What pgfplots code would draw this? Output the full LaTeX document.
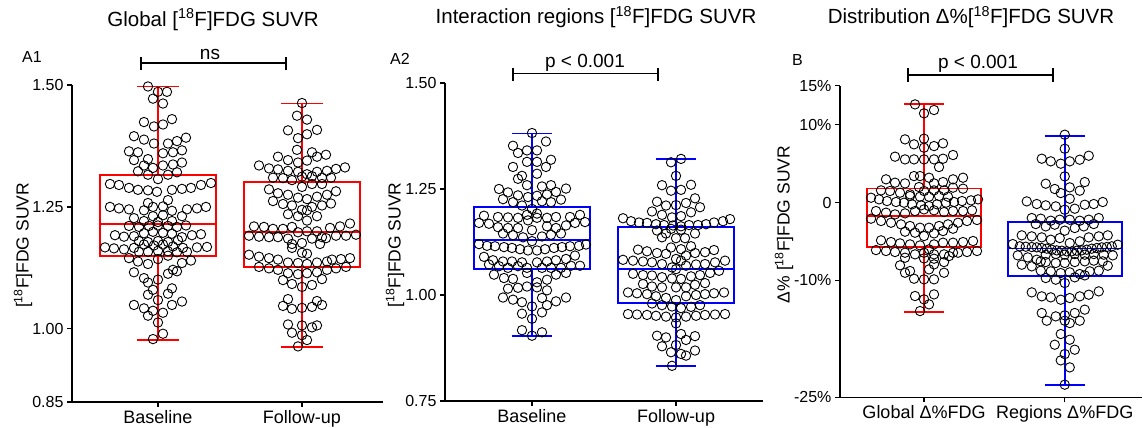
\documentclass[border=0pt]{standalone}
\usepackage{fontspec}
\setmainfont{Liberation Sans}
\usepackage{pgfplots}
\usepackage{pgfplotstable}
\pgfplotsset{compat=1.18}

\pgfplotstableread{
off v
-10 1.497
0 1.486
9 1.486
-5 1.472
5 1.462
-14 1.424
-4 1.415
5 1.419
14 1.430
-24 1.395
-14 1.388
-4 1.380
10 1.380
19 1.385
28 1.392
-29 1.364
-20 1.362
5 1.360
15 1.362
24 1.366
-24 1.346
-10 1.348
-14 1.335
-5 1.330
5 1.335
15 1.337
24 1.341
-20 1.323
-10 1.316
0 1.307
10 1.316
19 1.321
-48 1.297
-39 1.295
-29 1.289
-20 1.285
-10 1.284
-1 1.281
14 1.285
24 1.287
33 1.289
43 1.295
53 1.299
10 1.264
-10 1.258
-48 1.250
-39 1.247
-29 1.245
-14 1.243
-5 1.250
5 1.251
14 1.242
29 1.245
39 1.247
48 1.250
-24 1.227
-5 1.231
5 1.233
24 1.231
-14 1.221
0 1.219
14 1.221
-29 1.211
-19 1.209
-9 1.211
0 1.212
10 1.211
19 1.209
28 1.212
-43 1.192
-34 1.189
-24 1.190
-14 1.196
-5 1.199
5 1.197
14 1.195
24 1.188
34 1.192
43 1.194
-19 1.180
-10 1.178
0 1.180
10 1.178
20 1.182
-53 1.167
-44 1.165
-34 1.163
-24 1.166
-14 1.173
-4 1.171
5 1.173
15 1.169
25 1.166
39 1.167
49 1.168
-19 1.158
-10 1.158
0 1.160
10 1.159
19 1.157
29 1.158
-29 1.145
-20 1.138
-10 1.133
0 1.143
10 1.150
24 1.135
33 1.140
-24 1.116
-14 1.104
-10 1.095
0 1.101
10 1.113
15 1.121
19 1.118
-5 1.080
10 1.072
14 1.083
-10 1.070
0 1.059
-24 1.049
-14 1.042
-10 1.027
-5 1.037
5 1.033
14 1.049
24 1.056
0 1.013
5 0.990
-5 0.979
}\AoneBase

\pgfplotstableread{
off v
0 1.463
-5 1.437
5 1.429
-14 1.407
-4 1.391
5 1.399
15 1.408
-5 1.367
10 1.362
15 1.353
24 1.357
5 1.345
-24 1.353
-14 1.346
-4 1.341
-43 1.335
-33 1.329
-24 1.327
-14 1.324
-4 1.322
5 1.317
15 1.322
25 1.324
34 1.328
43 1.331
-29 1.310
-19 1.309
-10 1.305
0 1.312
10 1.313
20 1.310
29 1.310
0 1.291
10 1.297
20 1.297
-33 1.286
-24 1.278
-14 1.275
-4 1.269
5 1.266
15 1.271
25 1.275
34 1.282
-29 1.262
-19 1.256
-10 1.253
0 1.244
10 1.250
20 1.253
29 1.257
-14 1.235
-4 1.231
5 1.222
15 1.231
5 1.243
-48 1.210
-38 1.209
-29 1.205
-19 1.205
-10 1.209
-4 1.198
5 1.200
15 1.200
28 1.207
38 1.210
48 1.216
-53 1.191
-43 1.189
-33 1.188
-24 1.188
-14 1.185
-10 1.174
0 1.176
10 1.185
20 1.188
24 1.186
34 1.191
44 1.191
54 1.193
0 1.156
5 1.154
-10 1.166
18 1.174
-53 1.152
-43 1.148
-33 1.145
-24 1.142
-14 1.136
-4 1.135
5 1.133
15 1.136
25 1.138
30 1.142
39 1.143
48 1.145
-43 1.127
-33 1.124
-24 1.121
-14 1.114
-4 1.112
5 1.114
15 1.116
25 1.121
34 1.124
44 1.127
-10 1.092
0 1.086
10 1.090
20 1.102
-19 1.100
-14 1.061
-19 1.047
-10 1.041
0 1.043
10 1.045
15 1.057
20 1.049
-14 1.009
0 1.007
10 1.003
15 1.007
-10 0.992
0 0.987
5 0.977
-4 0.964
}\AoneFollow

\pgfplotstableread{
off v
0 1.382
14 1.362
-19 1.352
-14 1.335
-5 1.341
5 1.341
-5 1.314
5 1.314
19 1.319
14 1.302
-19 1.302
-10 1.281
-14 1.274
5 1.286
-5 1.259
10 1.256
19 1.259
-33 1.250
-24 1.242
-14 1.235
-4 1.231
5 1.234
15 1.237
24 1.243
34 1.251
-29 1.226
-19 1.219
-10 1.211
0 1.203
10 1.221
19 1.219
29 1.225
-48 1.187
-34 1.184
-24 1.183
-14 1.182
-5 1.189
5 1.192
-4 1.176
5 1.182
15 1.182
24 1.184
38 1.184
48 1.189
-53 1.170
-43 1.168
43 1.170
53 1.172
-34 1.160
-24 1.158
-14 1.158
0 1.153
15 1.162
24 1.158
34 1.164
-29 1.145
-19 1.141
-9 1.136
0 1.127
10 1.138
19 1.142
29 1.145
-53 1.120
-45 1.116
-37 1.115
-28 1.113
-20 1.111
-12 1.108
-4 1.105
5 1.105
13 1.108
22 1.111
30 1.113
38 1.115
47 1.116
54 1.119
-48 1.090
-39 1.082
-29 1.079
-20 1.079
-10 1.077
5 1.077
15 1.079
24 1.082
34 1.085
43 1.093
-43 1.072
-33 1.068
-24 1.064
-14 1.068
-5 1.064
10 1.064
19 1.064
29 1.064
39 1.069
48 1.069
-38 1.048
-28 1.040
-19 1.038
-14 1.017
-5 1.052
5 1.030
15 1.036
24 1.048
34 1.052
-24 1.015
-5 1.020
5 1.018
15 1.011
-29 0.994
-19 0.989
-10 0.983
0 0.973
10 0.993
15 0.976
24 0.985
34 0.994
-10 0.956
0 0.944
10 0.959
-10 0.917
0 0.904
10 0.912
}\AtwoBase

\pgfplotstableread{
off v
-5 1.313
5 1.321
0 1.281
-14 1.259
-5 1.246
5 1.248
15 1.260
-19 1.220
-10 1.211
0 1.212
10 1.217
19 1.228
24 1.207
-24 1.197
-14 1.189
-4 1.183
5 1.186
15 1.195
-53 1.181
-45 1.174
-37 1.171
-29 1.170
-20 1.167
-12 1.165
-3 1.164
5 1.162
13 1.165
22 1.165
30 1.167
38 1.171
47 1.174
54 1.179
-19 1.152
-10 1.145
-14 1.136
0 1.134
9 1.134
19 1.145
-5 1.156
5 1.154
-5 1.112
5 1.108
15 1.115
-38 1.107
-29 1.103
-19 1.099
-10 1.097
0 1.085
5 1.081
10 1.093
19 1.099
29 1.101
38 1.106
-53 1.083
-43 1.081
-33 1.079
-24 1.077
-14 1.073
-4 1.065
10 1.069
20 1.072
29 1.073
39 1.077
49 1.081
0 1.061
-43 1.050
-33 1.047
-24 1.046
-14 1.042
-4 1.039
5 1.038
15 1.044
24 1.047
34 1.052
43 1.057
-33 1.026
-24 1.020
-14 1.018
0 1.018
10 1.018
19 1.024
29 1.028
-48 1.006
-39 1.004
-29 1.002
-20 0.997
-10 0.993
0 0.988
10 0.997
20 1.000
29 1.002
38 1.004
48 1.006
-24 0.980
-14 0.976
-4 0.973
5 0.969
15 0.972
24 0.976
-48 0.955
-39 0.954
-29 0.953
-20 0.951
-10 0.949
0 0.947
10 0.949
20 0.951
29 0.953
39 0.954
49 0.955
0 0.933
-19 0.904
-10 0.900
5 0.908
10 0.894
19 0.903
-14 0.879
0 0.882
-5 0.865
5 0.861
10 0.857
19 0.869
-4 0.833
}\AtwoFollow

\pgfplotstableread{
off v
-9 12.60
0 11.45
10 11.88
-19 8.11
-10 7.47
0 8.20
0 7.04
10 7.25
19 7.60
-29 5.89
-19 5.54
-10 5.54
0 5.54
10 5.54
19 5.63
29 6.10
15 4.56
-38 2.98
-29 2.55
-19 2.46
-10 3.40
-4 3.40
5 3.19
10 2.46
19 2.63
29 2.98
39 3.19
-43 1.56
-34 1.48
-24 1.26
-14 1.05
-5 1.99
0 1.48
10 1.56
20 1.56
29 1.91
39 1.78
-53 0.62
-45 0.41
-37 0.19
-28 0.07
-20 -0.02
-12 -0.23
-3 -0.36
5 -0.45
13 -0.23
22 -0.02
30 0.07
38 0.19
47 0.28
54 0.41
-14 0.84
-4 0.75
5 0.75
15 0.84
24 0.75
-48 -1.09
-38 -1.30
-29 -1.52
-19 -1.39
-9 -1.09
0 -0.88
10 -1.00
20 -1.22
29 -1.09
39 -1.09
48 -1.00
-53 -2.07
-43 -2.37
-33 -2.59
-23 -2.80
-14 -3.01
-4 -3.23
5 -3.23
15 -3.01
24 -2.80
34 -2.59
43 -2.37
53 -2.24
-19 -3.74
-9 -3.87
0 -4.30
10 -3.96
19 -3.66
29 -3.36
-43 -4.85
-33 -5.07
-24 -5.24
-14 -5.37
-4 -5.50
10 -5.37
19 -5.15
29 -5.15
39 -5.07
49 -4.94
-48 -6.10
-38 -6.22
-29 -6.35
-19 -6.44
-9 -6.65
0 -6.44
5 -6.01
10 -6.65
20 -6.65
29 -6.44
34 -6.44
43 -6.35
53 -6.22
-19 -7.08
0 -7.17
10 -7.21
20 -7.64
25 -6.87
-24 -8.06
-14 -8.79
-19 -9.01
-10 -9.78
0 -9.86
5 -8.58
10 -7.94
10 -9.86
20 -9.01
-9 -12.00
0 -12.43
10 -11.79
5 -13.07
-4 -13.93
}\BGlobal

\pgfplotstableread{
off v
0 8.71
0 6.91
-23 5.63
-14 5.29
-4 4.99
5 5.29
15 5.50
24 6.01
0 3.36
-19 2.42
-10 1.74
-4 1.22
5 1.95
15 1.52
20 2.63
5 0.49
-38 0.15
-28 -0.19
-19 -0.36
-9 -0.49
0 -0.92
10 -0.79
20 -0.28
29 -0.19
38 0.07
-33 -1.99
-24 -2.07
-14 -2.33
-5 -2.20
5 -2.20
15 -2.33
24 -2.20
34 -1.99
-29 -2.76
-19 -3.06
-10 -2.84
0 -3.61
10 -3.27
19 -3.06
29 -2.76
-43 -4.21
-33 -4.34
-23 -4.47
-14 -4.77
-5 -4.56
5 -5.20
15 -4.98
24 -4.47
34 -4.34
43 -4.21
-52 -5.33
-45 -5.62
-39 -5.67
-33 -5.71
-28 -5.75
-23 -5.84
-18 -5.92
-13 -6.05
-8 -6.14
-3 -6.18
2 -6.27
7 -6.27
12 -6.18
17 -6.14
22 -6.05
27 -5.92
32 -5.84
37 -5.75
42 -5.71
47 -5.62
53 -5.41
-47 -6.78
-37 -7.04
-28 -7.34
-19 -6.69
-9 -6.61
0 -6.69
10 -6.61
20 -6.69
29 -6.61
39 -6.69
48 -6.78
-43 -7.98
-33 -8.19
-24 -7.55
-19 -7.64
-9 -7.76
0 -7.76
10 -7.64
20 -7.55
29 -7.46
38 -7.55
43 -8.11
-24 -8.75
-14 -8.83
-4 -9.05
5 -8.96
15 -9.18
25 -8.83
34 -8.75
-19 -9.69
-9 -9.90
0 -10.33
10 -9.60
20 -9.35
-33 -11.53
-23 -12.04
-14 -12.17
-4 -12.47
5 -12.26
15 -12.04
24 -11.83
34 -11.40
-23 -14.18
-18 -15.17
-9 -14.61
0 -14.48
0 -15.17
10 -14.18
15 -15.17
20 -13.75
5 -15.47
-4 -16.88
-10 -18.25
5 -17.61
10 -18.89
0 -19.45
-4 -20.26
5 -21.16
0 -23.38
}\BRegions

\pgfplotsset{
  panel/.style={scale only axis, anchor=south west,
    axis x line*=bottom, axis y line*=left,
    axis line style={line width=1.2pt,-},
    tick align=outside, major tick length=5pt,
    tick style={line width=1.2pt,black},
    xtick={1,2},
    xticklabel style={font=\fontsize{18}{18}\selectfont},
    yticklabel style={font=\fontsize{16}{16}\selectfont},
    clip=false, /pgf/number format/assume math mode=true},
  pts/.style={only marks, mark=o, mark size=4.7pt, black, line width=0.9pt},
  bx/.style={line width=1.9pt, solid, mark=none, line join=miter},
}

\begin{document}
\begin{tikzpicture}
\useasboundingbox (0,0) rectangle (1143pt,428pt);

% Panel A1
\begin{axis}[panel, at={(72pt,26pt)}, width=311pt, height=317pt,
  xmin=0.403, xmax=2.5625, ymin=0.85, ymax=1.5,
  xticklabels={Baseline,Follow-up},
  ytick={0.85,1,1.25,1.5}, yticklabels={0.85,1.00,1.25,1.50}]
\addplot[bx, red] coordinates {(0.6,1.149) (1.4,1.149) (1.4,1.316) (0.6,1.316)} -- cycle;
\addplot[bx, red] coordinates {(0.6,1.2155) (1.4,1.2155)};
\addplot[bx, red] coordinates {(1,1.316) (1,1.497)};
\addplot[bx, red] coordinates {(1,1.149) (1,0.977)};
\addplot[bx, red] coordinates {(0.8575,1.497) (1.1425,1.497)};
\addplot[bx, red] coordinates {(0.8575,0.977) (1.1425,0.977)};
\addplot[bx, red] coordinates {(1.6,1.127) (2.4,1.127) (2.4,1.302) (1.6,1.302)} -- cycle;
\addplot[bx, red] coordinates {(1.6,1.198) (2.4,1.198)};
\addplot[bx, red] coordinates {(2,1.302) (2,1.462)};
\addplot[bx, red] coordinates {(2,1.127) (2,0.963)};
\addplot[bx, red] coordinates {(1.8575,1.462) (2.1425,1.462)};
\addplot[bx, red] coordinates {(1.8575,0.963) (2.1425,0.963)};
\addplot[pts] table[x expr=1+\thisrow{off}/144, y=v] {\AoneBase};
\addplot[pts] table[x expr=2+\thisrow{off}/144, y=v] {\AoneFollow};
\end{axis}

% Panel A2
\begin{axis}[panel, at={(445pt,27pt)}, width=318pt, height=318pt,
  xmin=0.396, xmax=2.604, ymin=0.75, ymax=1.5,
  xticklabels={Baseline,Follow-up},
  ytick={0.75,1,1.25,1.5}, yticklabels={0.75,1.00,1.25,1.50}]
\addplot[bx, blue] coordinates {(0.6,1.062) (1.4,1.062) (1.4,1.207) (0.6,1.207)} -- cycle;
\addplot[bx, blue] coordinates {(0.6,1.130) (1.4,1.130)};
\addplot[bx, blue] coordinates {(1,1.207) (1,1.381)};
\addplot[bx, blue] coordinates {(1,1.062) (1,0.903)};
\addplot[bx, blue] coordinates {(0.8585,1.381) (1.1415,1.381)};
\addplot[bx, blue] coordinates {(0.8585,0.903) (1.1415,0.903)};
\addplot[bx, blue] coordinates {(1.6,0.982) (2.4,0.982) (2.4,1.160) (1.6,1.160)} -- cycle;
\addplot[bx, blue] coordinates {(1.6,1.061) (2.4,1.061)};
\addplot[bx, blue] coordinates {(2,1.160) (2,1.320)};
\addplot[bx, blue] coordinates {(2,0.982) (2,0.833)};
\addplot[bx, blue] coordinates {(1.8585,1.320) (2.1415,1.320)};
\addplot[bx, blue] coordinates {(1.8585,0.833) (2.1415,0.833)};
\addplot[pts] table[x expr=1+\thisrow{off}/144, y=v] {\AtwoBase};
\addplot[pts] table[x expr=2+\thisrow{off}/144, y=v] {\AtwoFollow};
\end{axis}

% Panel B
\begin{axis}[panel, at={(840pt,30.7pt)}, width=302pt, height=311.6pt,
  xmin=0.403, xmax=2.549, ymin=-25, ymax=15,
  xticklabels={Global Δ\%FDG,Regions Δ\%FDG},
  ytick={-25,-10,0,10,15}, yticklabels={-25\%,-10\%,0,10\%,15\%}]
\addplot[bx, red] coordinates {(0.596,-5.7) (1.404,-5.7) (1.404,1.8) (0.596,1.8)} -- cycle;
\addplot[bx, red] coordinates {(0.596,-1.7) (1.404,-1.7)};
\addplot[bx, red] coordinates {(1,1.8) (1,12.6)};
\addplot[bx, red] coordinates {(1,-5.7) (1,-14.1)};
\addplot[bx, red] coordinates {(0.8575,12.6) (1.1425,12.6)};
\addplot[bx, red] coordinates {(0.8575,-14.1) (1.1425,-14.1)};
\addplot[bx, blue] coordinates {(1.596,-9.4) (2.404,-9.4) (2.404,-2.5) (1.596,-2.5)} -- cycle;
\addplot[bx, blue] coordinates {(1.596,-5.9) (2.404,-5.9)};
\addplot[bx, blue] coordinates {(2,-2.5) (2,8.6)};
\addplot[bx, blue] coordinates {(2,-9.4) (2,-23.4)};
\addplot[bx, blue] coordinates {(1.8575,8.6) (2.1425,8.6)};
\addplot[bx, blue] coordinates {(1.8575,-23.4) (2.1425,-23.4)};
\addplot[pts] table[x expr=1+\thisrow{off}/140.7, y=v] {\BGlobal};
\addplot[pts] table[x expr=2+\thisrow{off}/140.7, y=v] {\BRegions};
\end{axis}

% Titles
\node[anchor=base, font=\fontsize{20.5}{22}\selectfont] at (213pt,401.5pt) {Global [\textsuperscript{18}F]FDG SUVR};
\node[anchor=base, font=\fontsize{20.5}{22}\selectfont] at (596pt,404pt) {Interaction regions [\textsuperscript{18}F]FDG SUVR};
\node[anchor=base, font=\fontsize{20.5}{22}\selectfont] at (971pt,404pt) {Distribution Δ\%[\textsuperscript{18}F]FDG SUVR};

% Panel letters
\node[anchor=base west, inner sep=0pt, font=\fontsize{16}{16}\selectfont] at (22pt,365.3pt) {A1};
\node[anchor=base west, inner sep=0pt, font=\fontsize{16}{16}\selectfont] at (390pt,363pt) {A2};
\node[anchor=base west, inner sep=0pt, font=\fontsize{16}{16}\selectfont] at (792pt,362pt) {B};

% y labels
\node[rotate=90, font=\fontsize{17.5}{18}\selectfont] at (23pt,182.5pt) {[\textsuperscript{18}F]FDG SUVR};
\node[rotate=90, font=\fontsize{17.5}{18}\selectfont] at (395pt,183pt) {[\textsuperscript{18}F]FDG SUVR};
\node[rotate=90, font=\fontsize{17.5}{18}\selectfont] at (784pt,203.5pt) {Δ\% [\textsuperscript{18}F]FDG SUVR};

% significance brackets
\draw[line width=1.2pt] (141pt,365pt) -- (286pt,365pt) (141pt,358pt) -- (141pt,371pt) (286pt,358pt) -- (286pt,371pt);
\node[anchor=base, inner sep=0pt, font=\fontsize{19}{19}\selectfont] at (210pt,368.7pt) {ns};
\draw[line width=1.2pt] (513pt,354.7pt) -- (658pt,354.7pt) (513pt,347pt) -- (513pt,360pt) (658pt,347pt) -- (658pt,360pt);
\node[anchor=base, inner sep=0pt, font=\fontsize{19}{19}\selectfont] at (585pt,360.3pt) {p < 0.001};
\draw[line width=1.2pt] (908pt,353pt) -- (1053pt,353pt) (908pt,346pt) -- (908pt,360pt) (1053pt,346pt) -- (1053pt,360pt);
\node[anchor=base, inner sep=0pt, font=\fontsize{19}{19}\selectfont] at (978pt,359.7pt) {p < 0.001};
\end{tikzpicture}
\end{document}
